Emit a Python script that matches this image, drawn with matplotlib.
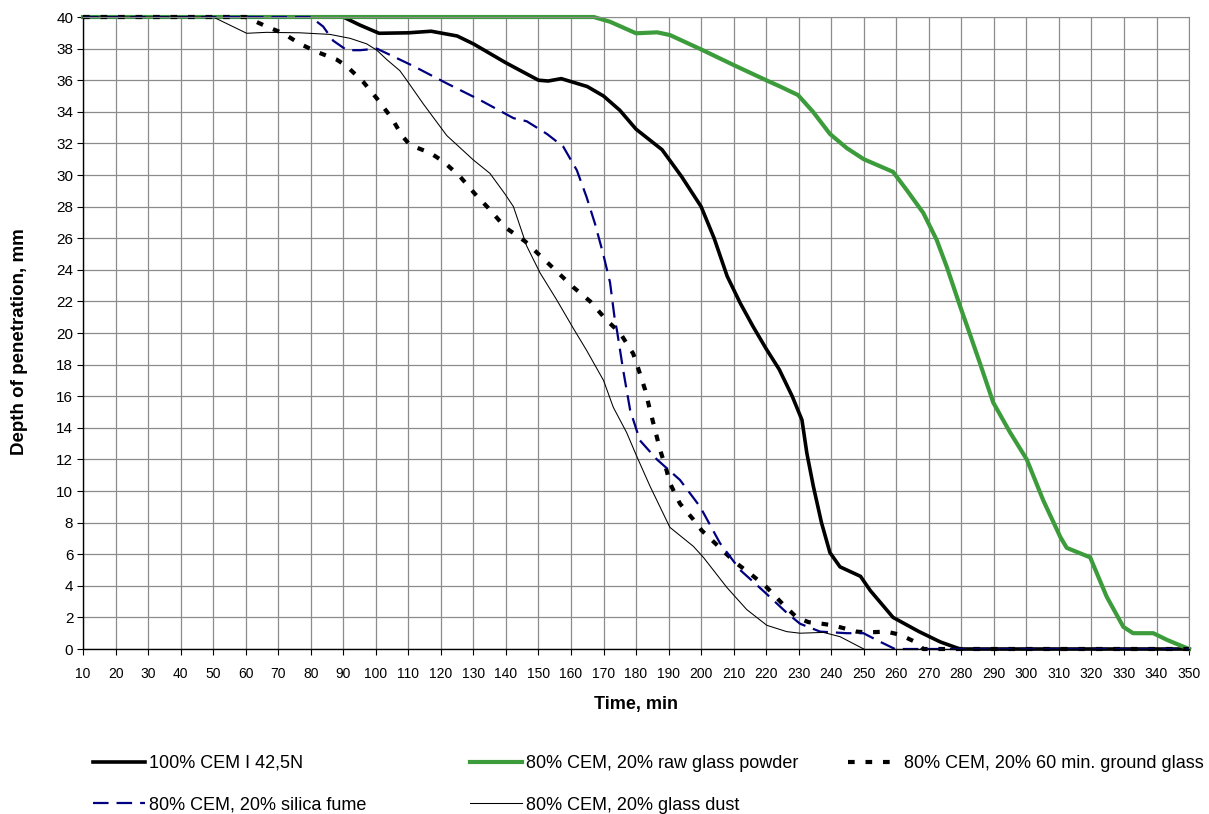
import matplotlib
matplotlib.use("Agg")
import matplotlib.pyplot as plt
import numpy as np

plt.rcParams['font.family'] = ['Liberation Sans', 'DejaVu Sans']

# time (min) / depth of penetration (mm)
cem_t = [10, 90, 95, 101, 110, 117, 125, 130, 140, 150, 153, 157, 165, 170, 175, 180, 188, 194, 200,
         204, 208, 212, 216, 220, 224, 228, 231, 232.5, 234.5, 237, 239.6, 242.7, 249, 252, 259, 267,
         273.5, 279.6, 350]
cem_d = [40, 40, 39.5, 38.97, 39.0, 39.1, 38.8, 38.3, 37.1, 36.0, 35.95, 36.1, 35.6, 35.0, 34.1, 32.9,
         31.6, 29.9, 28.0, 26.0, 23.6, 21.9, 20.4, 19.0, 17.7, 16.0, 14.5, 12.4, 10.3, 8.0, 6.1, 5.2,
         4.6, 3.7, 2.0, 1.1, 0.45, 0.0, 0.0]

raw_t = [10, 163, 167, 172, 180, 186.5, 190.4, 200, 210, 220, 224.3, 229.8, 234.4, 239.6, 244.8, 250,
         259, 263.2, 268.3, 272.4, 275.5, 279.6, 282, 285.7, 289.8, 295, 300.1, 305.2, 310.4, 312.4,
         319.6, 324.7, 329.8, 332.8, 339, 343.3, 349.4, 350]
raw_d = [40, 40, 40, 39.7, 38.97, 39.03, 38.86, 37.95, 36.96, 36.0, 35.6, 35.06, 34.0, 32.6, 31.7, 31.0,
         30.2, 29.05, 27.6, 25.9, 24.2, 21.7, 20.3, 18.1, 15.6, 13.7, 12.0, 9.4, 7.1, 6.4, 5.8, 3.3,
         1.4, 1.0, 1.0, 0.57, 0.05, 0]

ground_t = [10, 60, 66.4, 71.5, 76.7, 81.8, 88, 91, 96.1, 100.3, 104.9, 108, 110.5, 116.7, 120.8, 125.9,
            130.5, 135.1, 139.7, 145.9, 150.5, 155.6, 160.7, 165.9, 171, 175.1, 179.1, 180.6, 182.8,
            184.3, 185.8, 187.4, 189.4, 190.4, 193.5, 197.6, 200.2, 205.3, 210.4, 215.5, 220.2, 225.3,
            229.4, 233, 237.1, 240.5, 247.8, 250.9, 257, 261.2, 266.3, 268.3, 350]
ground_d = [40, 40, 39.4, 38.97, 38.3, 37.8, 37.3, 36.9, 35.9, 34.85, 33.6, 32.5, 31.9, 31.4, 30.85, 29.9,
            28.8, 27.8, 26.7, 25.8, 24.9, 23.9, 22.9, 22.0, 20.8, 20.0, 18.7, 17.8, 16.4, 15.1, 13.9,
            12.6, 11.3, 10.5, 9.2, 8.2, 7.5, 6.5, 5.5, 4.7, 3.9, 2.8, 2.0, 1.7, 1.6, 1.5, 1.1, 1.05,
            1.1, 0.9, 0.4, 0, 0]

silica_t = [10, 80, 83.8, 86.9, 91.1, 95.2, 100.3, 104.4, 111.5, 121.8, 132, 142.3, 146.4, 152.6, 157.6,
            161.8, 164.8, 167.4, 169.9, 172, 173.5, 174.1, 176, 178.2, 181.2, 186.4, 193.5, 199.7,
            205.8, 212, 219, 226.3, 230.4, 236.6, 244.8, 249.9, 255, 259.6, 350]
silica_d = [40, 40, 39.4, 38.5, 37.9, 37.9, 38.0, 37.6, 36.9, 35.8, 34.75, 33.6, 33.4, 32.6, 31.8, 30.3,
            28.6, 26.9, 25.0, 23.2, 20.8, 20.2, 17.7, 15.1, 13.2, 12.0, 10.7, 9.0, 6.7, 5.0, 3.7, 2.3,
            1.6, 1.1, 1.0, 1.0, 0.46, 0, 0]

dust_t = [10, 50, 60.3, 66.4, 76.7, 85.9, 92.1, 97.2, 100.3, 103.4, 107.4, 109.5, 114.6, 121.8, 130,
          135.1, 139.7, 142.3, 146.4, 150.5, 155.6, 160.7, 164.8, 170, 173, 177.1, 180.2, 184.3, 190.4,
          197.6, 200.7, 207.9, 214, 220.2, 226.3, 230.4, 237.6, 242.7, 250]
dust_d = [40, 40, 38.97, 39.03, 39.0, 38.9, 38.65, 38.3, 37.9, 37.3, 36.6, 36.0, 34.5, 32.5, 30.95, 30.1,
          28.8, 28.0, 25.5, 23.8, 22.1, 20.3, 18.9, 17.0, 15.3, 13.7, 12.2, 10.3, 7.7, 6.5, 5.8, 3.9,
          2.5, 1.5, 1.1, 1.0, 1.05, 0.78, 0]

labels = ["100% CEM I 42,5N", "80% CEM, 20% raw glass powder", "80% CEM, 20% 60 min. ground glass",
          "80% CEM, 20% silica fume", "80% CEM, 20% glass dust"]

fig = plt.figure(figsize=(12.09, 8.14), dpi=100)
ax = fig.add_axes([0.0687, 0.2027, 0.9148, 0.7764])

h_cem, = ax.plot(cem_t, cem_d, color='black', lw=2.6, clip_on=False, label=labels[0])
h_raw, = ax.plot(raw_t, raw_d, color='#3c9c3c', lw=3.0, clip_on=False, label=labels[1])
h_gr, = ax.plot(ground_t, ground_d, color='black', lw=3.0, linestyle=(0, (1.6, 2.6)),
                clip_on=False, label=labels[2])
h_si, = ax.plot(silica_t, silica_d, color='#000080', lw=1.6, linestyle=(0, (7, 3.6)),
                clip_on=False, label=labels[3])
h_du, = ax.plot(dust_t, dust_d, color='black', lw=0.75, clip_on=False, label=labels[4])

ax.set_xlim(10, 350)
ax.set_ylim(0, 40)
ax.set_xticks(np.arange(10, 351, 10))
ax.set_yticks(np.arange(0, 41, 2))
ax.grid(True, color='#8c8c8c', lw=0.9)
ax.set_axisbelow(True)
ax.tick_params(length=4, width=0.8, color='black')
ax.tick_params(axis='x', labelsize=10, pad=9)
ax.tick_params(axis='y', labelsize=11, pad=3)
for s in ['top', 'right']:
    ax.spines[s].set_color('#8c8c8c')
for s in ['left', 'bottom']:
    ax.spines[s].set_color('black')
    ax.spines[s].set_linewidth(1.0)

ax.set_xlabel("Time, min", fontsize=13, fontweight='bold')
ax.set_ylabel("Depth of penetration, mm", fontsize=13.5, fontweight='bold')
ax.xaxis.set_label_coords(0.5, -0.074)
ax.yaxis.set_label_coords(-0.050, 0.486)

# legend laid out in three columns like the original
cols = [(93, [h_cem, h_si]), (470, [h_raw, h_du]), (848, [h_gr])]
for x0, hs in cols:
    fig.legend(handles=hs, loc='upper left', bbox_to_anchor=(x0 / 1209, 1 - 755 / 814),
               frameon=False, fontsize=13, handlelength=2.9, handletextpad=0.2,
               labelspacing=1.37, borderpad=0, borderaxespad=0)

fig.savefig("out.png", dpi=100)
